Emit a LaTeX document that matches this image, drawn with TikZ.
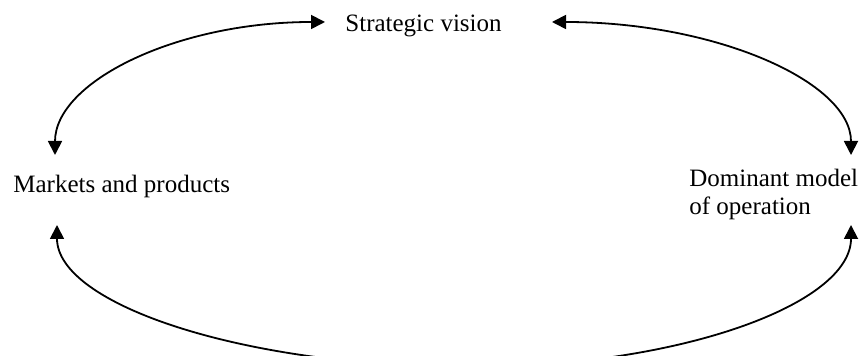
\documentclass[tikz,border=0pt]{standalone}
\usepackage{fontspec}
\setmainfont{Liberation Serif}
\usetikzlibrary{arrows.meta}

\begin{document}
\begin{tikzpicture}[x=0.5pt,y=-0.5pt,
				font=\fontsize{12.5pt}{14pt}\selectfont,
				label/.style={inner sep=0pt,align=left},
				link/.style={<->,>={Triangle[length=7pt,width=7pt]},line width=0.9pt}]
				\useasboundingbox (0,0) rectangle (860,356);
				% texts
				\node[label,anchor=base west] (vision) at (345,32) {Strategic vision};
				\node[label,anchor=base west] (markets) at (13,193) {Markets and products};
				\node[label,anchor=north west] (dominant) at (689,169) {Dominant model\\of operation};
				% ends of the arrows
				\coordinate (v-left) at (325,22);
				\coordinate (v-right) at (552,22);
				\coordinate (m-top) at (55,155);
				\coordinate (m-bot) at (57,225);
				\coordinate (d-top) at (851,155);
				\coordinate (d-bot) at (851,225);
				\coordinate (low) at (470,367);
				% top
				\draw[link] (m-top) .. controls +(0,-73) and +(-149,0) .. (v-left);
				\draw[link] (v-right) .. controls +(164,0) and +(0,-73) .. (d-top);
				% bottom
				\draw[link] (m-bot) .. controls +(0,79) and +(-228,0) .. (low)
					.. controls +(210,0) and +(0,79) .. (d-bot);
			\end{tikzpicture}
\end{document}
